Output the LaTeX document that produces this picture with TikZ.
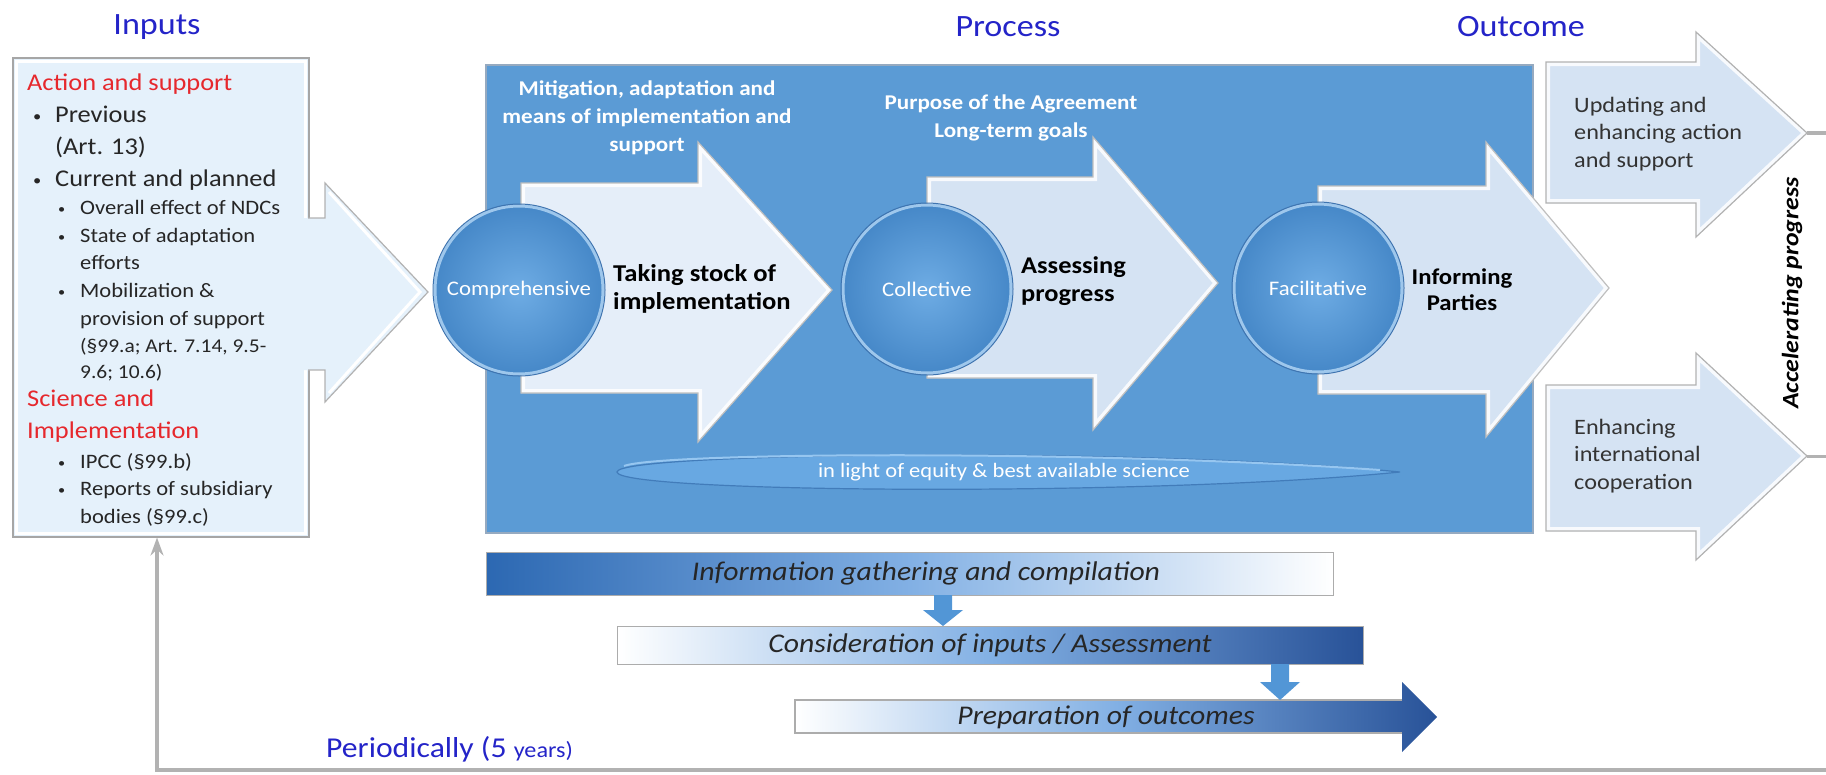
\documentclass[tikz,border=0pt]{standalone}
\usepackage{fontspec}
\setmainfont{Carlito}[FakeStretch=1.1]
\usetikzlibrary{arrows.meta}

\definecolor{hdrblue}{RGB}{36,36,200}
\definecolor{inred}{RGB}{230,40,45}
\definecolor{panelblue}{RGB}{91,155,213}
\definecolor{paneledge}{RGB}{150,170,192}
\definecolor{arrowfillA}{RGB}{229,238,249}
\definecolor{arrowfillB}{RGB}{213,227,243}
\definecolor{boxfill}{RGB}{229,241,251}
\definecolor{ballin}{RGB}{110,172,228}
\definecolor{ballout}{RGB}{70,136,200}
\definecolor{ballring}{RGB}{158,199,236}
\definecolor{ballrim}{RGB}{62,116,176}
\definecolor{lensfill}{RGB}{104,168,226}
\definecolor{lensedge}{RGB}{66,124,186}
\definecolor{lenslight}{RGB}{150,198,240}
\definecolor{bardark}{RGB}{44,104,178}
\definecolor{barmid}{RGB}{130,176,228}
\definecolor{barnavy}{RGB}{40,82,152}
\definecolor{loopgray}{RGB}{178,178,178}
\definecolor{smallarrow}{RGB}{82,150,214}

% filled shape with a soft inner highlight and a thin outline
\newcommand\bevelshape[3]{%
  \fill[#1] #3;
  \begin{scope}\clip #3; \draw[white, opacity=0.85, line width=8pt] #3;\end{scope}
  \draw[#2, line width=1.2pt, line join=miter] #3;
}
% list bullets
\newcommand\mainbul{\makebox[22pt][l]{\raisebox{1pt}{\fontsize{15}{15}\selectfont •}}}
\newcommand\subbul{\makebox[22pt][l]{\raisebox{1pt}{\fontsize{13}{13}\selectfont •}}}

\begin{document}
\begin{tikzpicture}[x=1pt,y=-1pt,
  hdr/.style={font=\fontsize{31}{36}\selectfont, text=hdrblue, inner sep=0},
  inmain/.style={anchor=base west, inner sep=0, font=\fontsize{24}{30}\selectfont, text=black!85},
  insub/.style={anchor=base west, inner sep=0, font=\fontsize{20.5}{26}\selectfont, text=black!85},
  insmall/.style={anchor=base west, inner sep=0, font=\fontsize{19.5}{26}\selectfont, text=black!85},
  inhead/.style={inmain, text=inred},
  ball/.style={circle, minimum size=168pt, inner sep=0, shading=radial,
    inner color=ballin, outer color=ballout, draw=ballring, line width=3pt,
    text=white, font=\fontsize{20.7}{24}\selectfont},
  stepname/.style={inner sep=0, font=\bfseries\fontsize{24}{28}\selectfont, text=black},
  toplabel/.style={inner sep=0, align=center, text=white, font=\bfseries\fontsize{21}{28}\selectfont},
  outtext/.style={anchor=west, inner sep=0, align=left, text=black!80, font=\fontsize{22}{27.5}\selectfont},
  bartext/.style={inner sep=0, text=black!85, font=\itshape\fontsize{27}{30}\selectfont},
  bar/.style={anchor=north west, inner sep=0, draw=gray!65, line width=1.2pt}
]
\useasboundingbox (0,0) rectangle (1826,774);

% ---------- headings ----------
\node[hdr] (hInputs) at (157,27) {Inputs};
\node[hdr] (hProcess) at (1008,27) {Process};
\node[hdr] (hOutcome) at (1521,27) {Outcome};

% ---------- inputs box ----------
\node[anchor=north west, minimum width=296pt, minimum height=479pt, inner sep=0,
  fill=boxfill, draw=gray!70, line width=1.5pt] (inbox) at (12,57) {};
\draw[white, line width=3pt] ([shift={(4,4)}]inbox.north west) rectangle ([shift={(-4,-4)}]inbox.south east);
% arrow leaving the box
\fill[boxfill] (300,218) -- (325,218) -- (325,183) -- (428,292) -- (325,402) -- (325,370) -- (300,370) -- cycle;
\draw[white, line width=3pt] (329,192) -- (420,292) -- (329,393);
\draw[gray!60, line width=1.2pt, line join=miter] (308,218) -- (325,218) -- (325,183) -- (428,292) -- (325,402) -- (325,370) -- (308,370);

\node[inhead] (i01) at (27,90) {Action and support};
\node[inmain] (i02) at (33,122) {\mainbul Previous};
\node[inmain] (i03) at (55,154) {(Art. 13)};
\node[inmain] (i04) at (33,186) {\mainbul Current and planned};
\node[insub] (i05) at (58,214) {\subbul Overall effect of NDCs};
\node[insub] (i06) at (58,242) {\subbul State of adaptation};
\node[insub] (i07) at (80,269) {efforts};
\node[insub] (i08) at (58,297) {\subbul Mobilization \&};
\node[insub] (i09) at (80,325) {provision of support};
\node[insmall] (i10) at (80,352) {(§99.a; Art. 7.14, 9.5-};
\node[insmall] (i11) at (80,378) {9.6; 10.6)};
\node[inhead] (i12) at (27,406) {Science and};
\node[inhead] (i13) at (27,438) {Implementation};
\node[insub] (i14) at (58,468) {\subbul IPCC (§99.b)};
\node[insub] (i15) at (58,495) {\subbul Reports of subsidiary};
\node[insub] (i16) at (80,523) {bodies (§99.c)};

% ---------- process panel ----------
\node[anchor=north west, minimum width=1047pt, minimum height=468pt, inner sep=0,
  fill=panelblue, draw=paneledge, line width=1.5pt] (panel) at (485,64) {};

% equity lens
\path[fill=lensfill, draw=lensedge, line width=1.2pt]
  (617,472) .. controls (617,452) and (1150,447) .. (1400,472)
            .. controls (1150,497) and (617,493) .. (617,472) -- cycle;
\draw[lenslight, line width=2pt] (624,466) .. controls (660,452) and (1100,450) .. (1380,470);
\node[inner sep=0, text=white, font=\fontsize{20.5}{24}\selectfont] (equity) at (1004,472)
  {in light of equity \& best available science};

% step arrows
\bevelshape{arrowfillA}{gray!50}{(521,183) -- (698,183) -- (698,142) -- (832,290) -- (698,442) -- (698,393) -- (521,393) -- cycle}
\bevelshape{arrowfillB}{gray!50}{(927,177) -- (1093,177) -- (1093,137) -- (1218,283) -- (1093,430) -- (1093,378) -- (927,378) -- cycle}
\bevelshape{arrowfillB}{gray!50}{(1318,186) -- (1486,186) -- (1486,142) -- (1609,288) -- (1486,437) -- (1486,394) -- (1318,394) -- cycle}

% principle circles
\node[ball] (c1) at (519,290) {Comprehensive};
\node[ball] (c2) at (927,289) {Collective};
\node[ball] (c3) at (1318,288) {Facilitative};
\foreach \c in {c1,c2,c3} \draw[ballrim, line width=1pt] (\c.center) circle (86);

\node[toplabel] (mit) at (647,118) {Mitigation, adaptation and\\means of implementation and\\support};
\node[toplabel] (purp) at (1011,118) {Purpose of the Agreement\\Long-term goals};

\node[stepname, anchor=west, align=left, font=\bfseries\fontsize{24.2}{28}\selectfont] (take) at (613,289) {Taking stock of\\implementation};
\node[stepname, anchor=west, align=left] (assess) at (1021,281) {Assessing\\progress};
\node[stepname, align=center, font=\bfseries\fontsize{22.5}{26}\selectfont] (inform) at (1462,290) {Informing\\Parties};

% ---------- outcome arrows ----------
\bevelshape{arrowfillB}{gray!60}{(1546,62) -- (1696,62) -- (1696,32) -- (1807,133) -- (1696,237) -- (1696,203) -- (1546,203) -- cycle}
\bevelshape{arrowfillB}{gray!60}{(1546,385) -- (1696,385) -- (1696,353) -- (1807,456) -- (1696,560) -- (1696,531) -- (1546,531) -- cycle}
\coordinate (tipA) at (1807,133);
\coordinate (tipB) at (1807,456);
\node[outtext] (outA) at (1574,134) {Updating and\\enhancing action\\and support};
\node[outtext] (outB) at (1574,456) {Enhancing\\international\\cooperation};
\node[inner sep=0, rotate=90, font=\bfseries\itshape\fontsize{23.5}{26}\selectfont] (accel) at (1792,293) {Accelerating progress};

% ---------- procedure bars ----------
\node[bar, minimum width=847pt, minimum height=43pt, left color=bardark, right color=white, middle color=barmid] (bar1) at (486,552) {};
\node[bar, minimum width=746pt, minimum height=38pt, left color=white, right color=barnavy, middle color=barmid] (bar2) at (617,626) {};
\shade[left color=white, right color=barnavy, middle color=barmid]
  (795,700) -- (1402,700) -- (1402,682) -- (1437,717) -- (1402,752) -- (1402,733) -- (795,733) -- cycle;
\draw[gray!65, line width=1.2pt] (1402,700) -- (795,700) -- (795,733) -- (1402,733);
\coordinate (bar3) at (795,700);

\node[bartext] (t1) at (926,573) {Information gathering and compilation};
\node[bartext] (t2) at (990,645) {Consideration of inputs / Assessment};
\node[bartext] (t3) at (1106,717) {Preparation of outcomes};

% small step-down arrows between the bars
\fill[smallarrow] (934,595) -- (952,595) -- (952,610) -- (963,610) -- (943,626) -- (923,610) -- (934,610) -- cycle;
\fill[smallarrow] (1271,664) -- (1289,664) -- (1289,682) -- (1300,682) -- (1280,700) -- (1260,682) -- (1271,682) -- cycle;

% ---------- periodic feedback loop ----------
\coordinate (loopR) at (1845,770);
\coordinate (loopL) at (157,770);
\draw[loopgray, line width=3pt] (tipB) -- (tipB -| loopR);
\draw[loopgray, line width=4.5pt, -{Stealth[length=18pt, width=13pt]}]
  (tipA) -| (loopR) -- (loopL) -- (inbox.south -| loopL);

\node[anchor=base west, inner sep=0, text=hdrblue] (period) at (326,757)
  {\fontsize{28.8}{32}\selectfont Periodically (5 \fontsize{22}{26}\selectfont years)};
\end{tikzpicture}
\end{document}
